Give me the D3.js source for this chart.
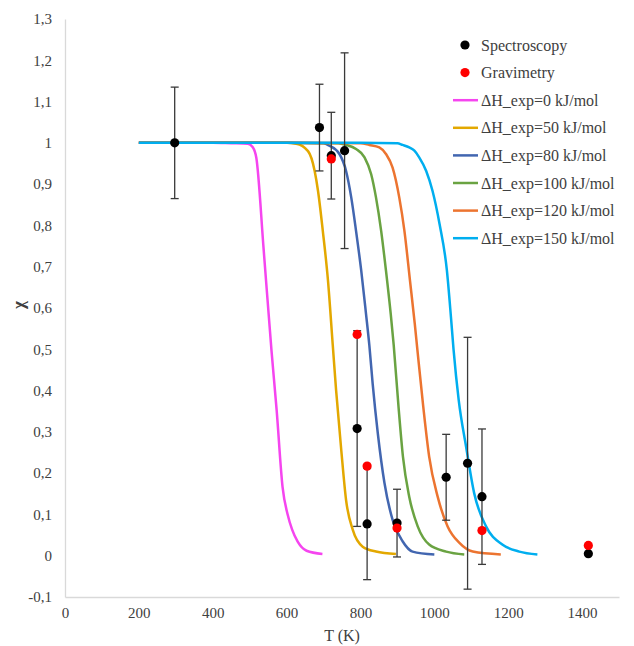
<!DOCTYPE html>
<html>
<head>
<meta charset="utf-8">
<script src="https://cdn.jsdelivr.net/npm/d3@7"></script>
<style>
  body { margin: 0; background: #fff; }
  svg text { font-family: "Liberation Serif", "Times New Roman", Times, "DejaVu Serif", serif; fill: #404040; }
</style>
</head>
<body>
<div id="chart"></div>
<script>
// model curves (T in K, chi)
const dh0T = [200, 300, 400, 450, 495, 508, 518, 538, 559, 573, 589, 603, 615, 630, 654, 697];
const dh0X = [1, 1, 1, 0.999, 0.998, 0.99, 0.964, 0.74, 0.498, 0.353, 0.167, 0.099, 0.063, 0.034, 0.012, 0.004];
const dh50T = [200, 400, 600, 626, 658, 676, 685, 698, 712, 725, 734, 748, 761, 779, 806, 842, 896];
const dh50X = [1, 1, 1, 0.998, 0.98, 0.932, 0.884, 0.787, 0.667, 0.51, 0.401, 0.256, 0.135, 0.063, 0.022, 0.01, 0.004];
const dh80T = [200, 400, 600, 700, 716, 743, 761, 775, 788, 802, 815, 824, 833, 847, 865, 887, 914, 941, 1000];
const dh80X = [1, 1, 1, 0.999, 0.993, 0.973, 0.932, 0.868, 0.787, 0.691, 0.586, 0.51, 0.417, 0.296, 0.176, 0.087, 0.035, 0.01, 0.003];
const dh100T = [200, 400, 600, 740, 761, 788, 811, 829, 842, 856, 869, 882, 890, 903, 915, 932, 955, 986, 1032, 1081];
const dh100X = [1, 1, 1, 0.999, 0.995, 0.985, 0.965, 0.924, 0.868, 0.787, 0.691, 0.585, 0.51, 0.361, 0.24, 0.143, 0.071, 0.027, 0.01, 0.003];
const dh120T = [200, 400, 600, 800, 824, 851, 869, 887, 905, 919, 934, 947, 954, 970, 986, 1009, 1036, 1068, 1104, 1180];
const dh120X = [1, 1, 1, 0.999, 0.995, 0.989, 0.973, 0.94, 0.868, 0.787, 0.667, 0.562, 0.5, 0.361, 0.24, 0.143, 0.071, 0.031, 0.01, 0.003];
const dh150T = [200, 400, 600, 800, 900, 914, 932, 946, 959, 978, 995, 1014, 1034, 1045, 1052, 1066, 1086, 1108, 1140, 1184, 1230, 1279];
const dh150X = [1, 1, 1, 1, 0.999, 0.995, 0.989, 0.981, 0.965, 0.932, 0.884, 0.804, 0.691, 0.578, 0.5, 0.377, 0.264, 0.151, 0.071, 0.027, 0.01, 0.003];

// measured points
const specT = [297, 689, 721, 757, 791, 818, 899, 1032, 1090, 1129, 1417];
const specX = [1.0, 1.037, 0.969, 0.981, 0.308, 0.077, 0.079, 0.19, 0.224, 0.143, 0.005];
const specErr = [0.135, 0.105, 0.105, 0.237, 0.237, 0.135, 0.082, 0.104, 0.305, 0.164, 0];
const gravT = [721, 791, 818, 899, 1129, 1417];
const gravX = [0.961, 0.536, 0.217, 0.067, 0.061, 0.025];

const curveNames = ["ΔH_exp=0 kJ/mol", "ΔH_exp=50 kJ/mol", "ΔH_exp=80 kJ/mol",
  "ΔH_exp=100 kJ/mol", "ΔH_exp=120 kJ/mol", "ΔH_exp=150 kJ/mol"];
const curveColors = ["#f545ef", "#e3a800", "#4266b0", "#6aa342", "#ec7430", "#00aeef"];
const xTicks = [0, 200, 400, 600, 800, 1000, 1200, 1400];
const yTicks = [-0.1, 0, 0.1, 0.2, 0.3, 0.4, 0.5, 0.6, 0.7, 0.8, 0.9, 1, 1.1, 1.2, 1.3];

const curves = [
  [dh0T, dh0X], [dh50T, dh50X], [dh80T, dh80X],
  [dh100T, dh100X], [dh120T, dh120X], [dh150T, dh150X]
].map((c, i) => ({
  name: curveNames[i],
  color: curveColors[i],
  values: c[0].map((t, j) => ({ t: t, x: c[1][j] }))
}));

const serif = '"Liberation Serif", "Times New Roman", Times, "DejaVu Serif", serif';
const width = 634, height = 646;
const svg = d3.select("#chart").append("svg")
  .attr("width", width)
  .attr("height", height)
  .attr("font-family", serif);

const x = d3.scaleLinear().domain([0, 1500]).range([65, 619]);
const y = d3.scaleLinear().domain([-0.1, 1.3]).range([597, 19]);

const comma = d3.formatLocale({ decimal: ",", thousands: " ", grouping: [3], currency: ["", ""], minus: "-" });
const fmtY = comma.format(".1~f");

const yAxis = svg.append("g")
  .attr("transform", "translate(65,0)")
  .call(d3.axisLeft(y).tickValues(yTicks).tickFormat(fmtY).tickSize(0).tickPadding(13));
const xAxis = svg.append("g")
  .attr("transform", "translate(0,597)")
  .call(d3.axisBottom(x).tickValues(xTicks).tickFormat(d3.format("d")).tickSize(0).tickPadding(10));

[xAxis, yAxis].forEach(a => {
  a.attr("font-family", serif);
  a.select(".domain").attr("stroke", "#d9d9d9").attr("stroke-width", 1.3);
  a.selectAll("text")
    .style("font-family", serif)
    .style("font-size", "15px")
    .attr("fill", "#404040");
});

svg.append("text")
  .attr("x", x(750))
  .attr("y", 641)
  .attr("text-anchor", "middle")
  .style("font-size", "16px")
  .text("T (K)");

svg.append("text")
  .attr("transform", "translate(24,305) rotate(-90)")
  .attr("text-anchor", "middle")
  .style("font-size", "17px")
  .style("font-weight", "bold")
  .text("χ");

const line = d3.line()
  .x(d => x(d.t))
  .y(d => y(d.x))
  .curve(d3.curveMonotoneX);

svg.append("g").selectAll("path")
  .data(curves)
  .join("path")
  .attr("d", d => line(d.values))
  .attr("fill", "none")
  .attr("stroke", d => d.color)
  .attr("stroke-width", 2.5);

// error bars
const spec = specT.map((t, i) => ({ t: t, x: specX[i], e: specErr[i] }));
const bars = svg.append("g").selectAll("g")
  .data(spec.filter(d => d.e > 0))
  .join("g")
  .attr("stroke", "#3a3a3a")
  .attr("stroke-width", 1.3);
bars.append("line")
  .attr("x1", d => x(d.t)).attr("x2", d => x(d.t))
  .attr("y1", d => y(d.x + d.e)).attr("y2", d => y(d.x - d.e));
bars.append("line")
  .attr("x1", d => x(d.t) - 4).attr("x2", d => x(d.t) + 4)
  .attr("y1", d => y(d.x + d.e)).attr("y2", d => y(d.x + d.e));
bars.append("line")
  .attr("x1", d => x(d.t) - 4).attr("x2", d => x(d.t) + 4)
  .attr("y1", d => y(d.x - d.e)).attr("y2", d => y(d.x - d.e));

svg.append("g").selectAll("circle")
  .data(spec)
  .join("circle")
  .attr("cx", d => x(d.t))
  .attr("cy", d => y(d.x))
  .attr("r", 4.6)
  .attr("fill", "#000");

svg.append("g").selectAll("circle")
  .data(gravT.map((t, i) => ({ t: t, x: gravX[i] })))
  .join("circle")
  .attr("cx", d => x(d.t))
  .attr("cy", d => y(d.x))
  .attr("r", 4.6)
  .attr("fill", "#ff0000");

// legend
const legend = svg.append("g");
const rowY = i => 45 + i * 27.6;
const legendItems = [
  { name: "Spectroscopy", type: "dot", color: "#000" },
  { name: "Gravimetry", type: "dot", color: "#ff0000" }
].concat(curves.map(c => ({ name: c.name, type: "line", color: c.color })));

legendItems.forEach((d, i) => {
  if (d.type === "dot") {
    legend.append("circle")
      .attr("cx", 465).attr("cy", rowY(i)).attr("r", 4.6).attr("fill", d.color);
  } else {
    legend.append("line")
      .attr("x1", 453).attr("x2", 478)
      .attr("y1", rowY(i)).attr("y2", rowY(i))
      .attr("stroke", d.color).attr("stroke-width", 2.5);
  }
  legend.append("text")
    .attr("x", 481)
    .attr("y", rowY(i))
    .attr("dy", "0.35em")
    .style("font-size", "16px")
    .attr("fill", "#000")
    .text(d.name);
});
</script>
</body>
</html>
